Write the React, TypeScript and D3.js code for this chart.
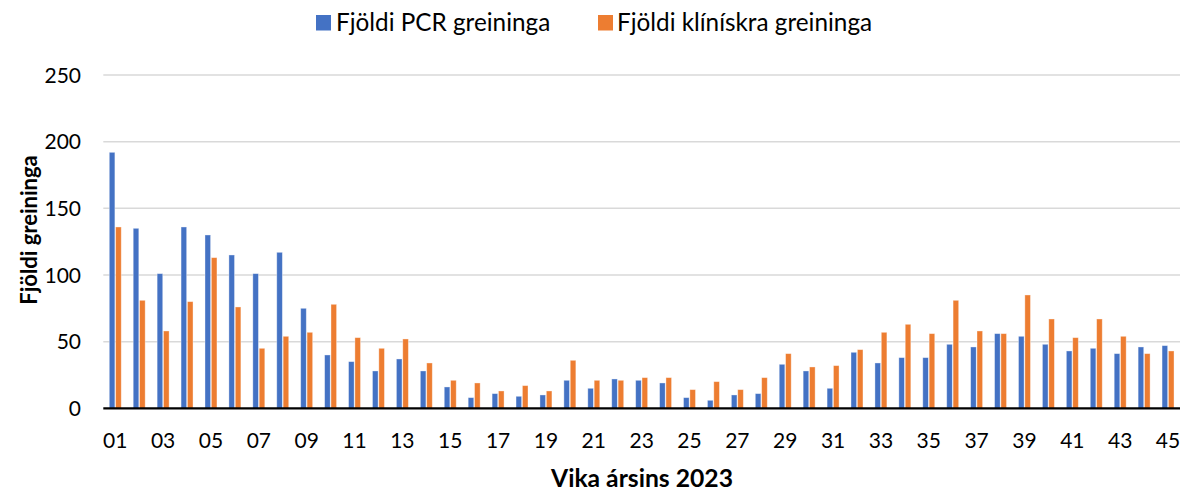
import React from "react";
import * as d3 from "d3";

const weeks: string[] = Array.from({ length: 45 }, (_, i) => String(i + 1).padStart(2, "0"));
const pcr: number[] = [192, 135, 101, 136, 130, 115, 101, 117, 75, 40, 35, 28, 37, 28, 16, 8, 11, 9, 10, 21, 15, 22, 21, 19, 8, 6, 10, 11, 33, 28, 15, 42, 34, 38, 38, 48, 46, 56, 54, 48, 43, 45, 41, 46, 47];
const clinical: number[] = [136, 81, 58, 80, 113, 76, 45, 54, 57, 78, 53, 45, 52, 34, 21, 19, 13, 17, 13, 36, 21, 21, 23, 23, 14, 20, 14, 23, 41, 31, 32, 44, 57, 63, 56, 81, 58, 56, 85, 67, 53, 67, 54, 41, 43];
const seriesNames: string[] = ["Fjöldi PCR greininga", "Fjöldi klínískra greininga"];
const colors: string[] = ["#4472C4", "#ED7D31"];
const yTicks: number[] = [0, 50, 100, 150, 200, 250];

const W = 1193;
const H = 491;
const FONT = "Lato, 'Open Sans', sans-serif";

export default function App() {
  const left = 103.3;
  const right = 1180;
  const top = 75;
  const bottom = 408.3;

  const x = d3.scaleBand<string>().domain(weeks).range([left, right]).paddingInner(0.5).paddingOuter(0.25);
  const x1 = d3.scaleBand<number>().domain([0, 1]).range([0, x.bandwidth()]).paddingInner(0.12);
  const y = d3.scaleLinear().domain([0, 250]).range([bottom, top]);
  const series = [pcr, clinical];

  return (
    <svg width={W} height={H} style={{ position: "absolute", left: 0, top: 0 }} fontFamily={FONT}>
      <rect width={W} height={H} fill="#fff" />
      {yTicks.slice(1).map((t) => (
        <line key={t} x1={left} x2={right} y1={y(t)} y2={y(t)} stroke="#d9d9d9" strokeWidth={1.5} />
      ))}
      {yTicks.map((t) => (
        <text key={t} x={81} y={y(t)} dy="0.36em" textAnchor="end" fontSize={21} fill="#000">
          {t}
        </text>
      ))}
      {series.map((s, si) =>
        s.map((v, i) => (
          <rect
            key={si + "-" + i}
            x={(x(weeks[i]) as number) + (x1(si) as number)}
            y={y(v)}
            width={x1.bandwidth()}
            height={bottom - y(v)}
            fill={colors[si]}
            stroke="#ffffff"
            strokeOpacity={0.45}
            strokeWidth={0.8}
          />
        ))
      )}
      <line x1={left} x2={right} y1={bottom} y2={bottom} stroke="#000" strokeWidth={2.2} />
      {weeks.map((w, i) =>
        i % 2 === 0 ? (
          <text key={w} x={(x(w) as number) + x.bandwidth() / 2} y={447.5} textAnchor="middle" fontSize={21} fill="#000">
            {w}
          </text>
        ) : null
      )}
      <text x={642} y={486.5} textAnchor="middle" fontSize={24.7} fontWeight="bold" fill="#000">
        Vika ársins 2023
      </text>
      <text transform={`translate(37,230) rotate(-90)`} textAnchor="middle" fontSize={22} fontWeight="bold" fill="#000">
        Fjöldi greininga
      </text>
      <g>
        <rect x={316} y={15} width={15} height={15.5} fill={colors[0]} />
        <text x={336} y={31} fontSize={24.3} fill="#000">{seriesNames[0]}</text>
        <rect x={598} y={15} width={15} height={15.5} fill={colors[1]} />
        <text x={617} y={31} fontSize={24.3} fill="#000">{seriesNames[1]}</text>
      </g>
    </svg>
  );
}
